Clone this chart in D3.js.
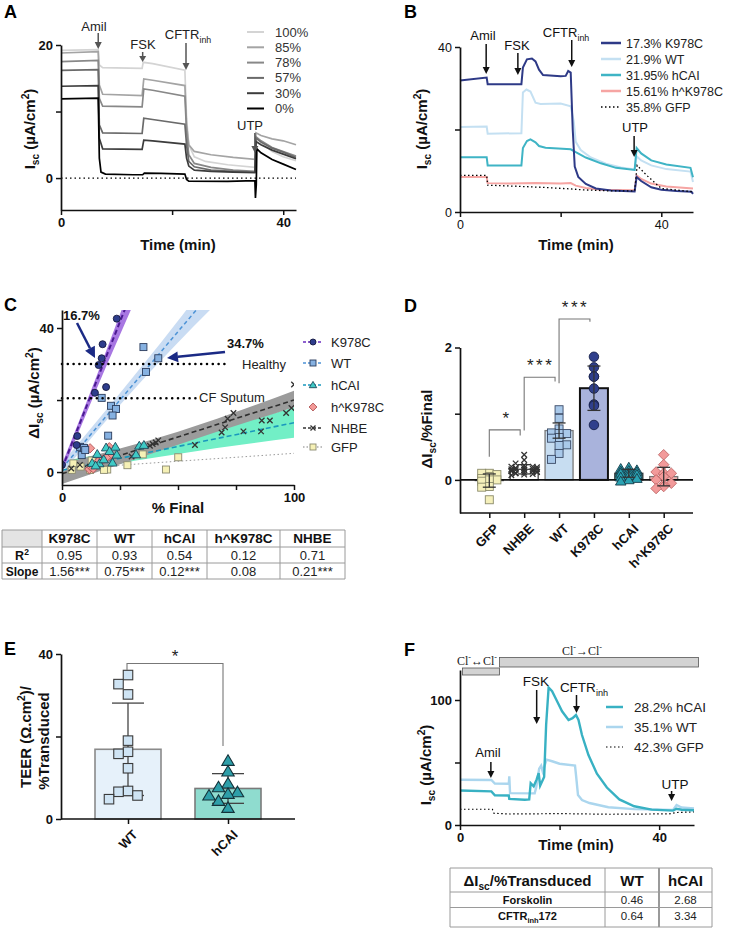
<!DOCTYPE html>
<html><head><meta charset="utf-8">
<script src="https://cdn.jsdelivr.net/npm/d3@7"></script>
<style>body{margin:0;background:#fff}</style>
</head><body><svg id="fig" width="736" height="929"></svg>
<script>
// ================= DATA =================
// Panel A (time in min, Isc in uA/cm2)
const legendA = ["100%","85%","78%","57%","30%","0%"];
const colorsA = ["#d4d4d4","#a4a4a4","#888888","#6a6a6a","#3c3c3c","#000000"];
const traceA100 = [[0,19.2],[6.7,19.3],[6.9,17],[7.5,16.6],[14.6,16.5],[14.8,17.4],[16.5,17.2],[22.3,16.2],[22.6,9],[23,5],[24,3.2],[26,2.5],[30,2],[34.9,1.6],[35.1,6.0],[36,5.4],[38,4],[40,3.2],[42.3,2.6]];
const traceA85 = [[0,18.8],[6.7,19.0],[6.9,14],[7.5,12.6],[14.6,12.4],[14.9,14.9],[16.5,14.7],[22.3,13.9],[22.6,8],[23,5],[24,4],[27,3.5],[31,3.1],[34.9,2.8],[35.1,6.8],[36,6.4],[38,5.9],[40,5.6],[42.3,5.0]];
const traceA78 = [[0,17.5],[6.7,17.7],[6.9,12],[7.5,10.8],[14.6,10.7],[14.9,13.4],[16.5,13.2],[22.3,12.3],[22.6,7],[23,3.5],[24,2.2],[27,1.6],[31,1.2],[34.9,1.0],[35.1,6.2],[36,5.6],[38,4.6],[40,4.0],[42.3,3.3]];
const traceA57 = [[0,16.2],[6.7,16.3],[6.9,8],[7.5,6.8],[14.6,6.7],[14.9,9.0],[16.5,8.8],[22.3,8.1],[22.6,5],[23,2.5],[24,1.7],[27,1.2],[31,1.0],[34.9,0.9],[35.1,6.0],[36,5.4],[38,4.5],[40,3.9],[42.3,3.1]];
const traceA30 = [[0,13.8],[6.7,13.9],[6.9,6],[7.5,4.4],[14.6,4.3],[14.9,5.7],[16.5,5.6],[22.3,5.1],[22.6,3],[23,1.8],[24,1.2],[27,1.0],[31,0.9],[34.9,0.8],[35.1,5.5],[36,5.0],[38,4.2],[40,3.6],[42.3,2.9]];
const traceA0 = [[0,11.9],[6.7,12.0],[6.9,3],[7.2,0.9],[8,0.6],[13,0.5],[14.7,0.5],[15,0.75],[18,0.7],[22.3,0.6],[22.6,-0.2],[23,-0.45],[30,-0.5],[34.9,-0.4],[35,-3],[35.15,-1],[35.25,4.4],[36,3.8],[38,2.8],[40,2.1],[42.3,1.3]];

// Panel B
const legendB = ["17.3% K978C","21.9% WT","31.95% hCAI","15.61% h^K978C","35.8% GFP"];
const colorsB = ["#2e3a87","#c4e0f2","#3fb4c5","#f6a5a3","#000000"];
const traceBK978C = [[0,31.9],[5.3,32.6],[5.5,31.0],[12.2,31.0],[12.5,35],[13.3,37.0],[14.3,37.2],[15,36.5],[15.7,34.5],[16.5,33.2],[20,32.9],[21,33],[21.5,34.2],[22,33.8],[22.4,20],[22.8,11],[23.5,8.5],[25,6.8],[27,5.7],[30,5.2],[34.7,5.0],[35.1,8.5],[36,7.5],[38,6.0],[40,5.4],[43,5.1],[46,4.9],[46.3,4.4]];
const traceBWT = [[0,20.6],[5.3,20.7],[5.5,19.0],[12.2,19.1],[12.5,29.0],[13.2,29.7],[14,29.2],[15,26.5],[16,26.2],[20,26.3],[22,25.6],[22.6,22],[23,17],[24,15],[26,13.2],[29,11.7],[32,10.8],[34.7,10.3],[35.1,13.5],[36,12.5],[38,11.3],[41,10.4],[45.8,9.8],[46.3,7.3]];
const traceBhCAI = [[0,13.3],[5.3,13.3],[5.5,11.3],[12.2,11.3],[12.5,15.5],[13.3,17.2],[14,17.6],[15,16.9],[15.7,16.0],[17,15.6],[22,15.2],[23,14.5],[25,13.2],[28,11.8],[31,10.7],[34.7,10.2],[35.1,15.5],[36,14.2],[38,12.5],[41,11.5],[45.8,10.7],[46.3,8.4]];
const traceBhK978C = [[0,8.5],[5.3,8.5],[5.5,7.0],[10,6.9],[15,7.0],[20,6.9],[22,7.0],[23,6.4],[25,5.8],[28,5.4],[34.7,5.3],[35.1,8.9],[36,8.0],[38,6.9],[41,6.2],[46.3,5.7]];
const traceBGFP = [[0,8.9],[5.3,8.9],[5.5,6.5],[10,6.3],[16,6.0],[22,5.6],[24,5.4],[30,5.1],[34.7,5.1],[35.2,11.3],[37,9.0],[40,5.7],[46.3,4.9]];

// Panel C (% Final vs delta Isc)
const legendC = ["K978C","WT","hCAI","h^K978C","NHBE","GFP"];
const C_K978C = [[23.6,42.6],[17.5,35.5],[17.1,31.6],[15.8,29.7],[19.0,23.6],[14.2,22.0],[6.6,10.0],[6.3,7.5],[0,2.0]];
const C_WT = [[35.1,34.7],[41.5,31.6],[36.2,27.8],[17.1,20.6],[21.1,18.4],[23.3,17.5],[21.8,15.7],[19.9,10.1],[7.8,7.0],[9.5,6.7],[8.5,4.7],[10.0,6.1]];
const C_hCAI = [[33.3,7.3],[35.3,7.5],[31.9,4.9],[23.6,4.8],[21.8,2.6],[16.1,2.4],[19.0,6.8],[15.2,5.0],[23.0,7.0],[18.0,3.5],[13.0,2.5],[20.5,5.8],[14.5,1.8]];
const C_hK978C = [[12.1,6.6],[20.4,6.9],[20.4,4.5],[16.4,3.5],[17.8,3.5],[11.8,0.8],[12.8,1.3],[14.9,2.0],[15.5,2.8],[13.5,1.0],[19.0,4.0]];
const C_NHBE = [[100,24.3],[98.9,17.8],[96.6,16.4],[89.6,14.3],[86.1,14.3],[85.8,11.3],[78.2,11.3],[73.9,16.4],[71.4,14.8],[70.3,12.4],[68.8,11.0],[57.3,7.5],[41.5,8.8],[40.4,8.2],[39.1,7.8],[37.9,7.3],[30.0,4.3],[7.7,2.0],[4.0,1.0],[12.0,1.5]];
const C_GFP = [[50.1,4.1],[44.8,0.7],[34.8,4.9],[28.2,1.9],[19.5,0.7],[18.1,0.6],[12.8,3.2],[12.1,0.6],[4.9,2.4],[4.2,0.6],[8.0,1.5]];
const fitK978C = [1.0, 1.63], fitWT = [1.0, 0.76], fitHCAI = [0.5, 0.132], fitNHBE = [-0.5, 0.205], fitGFP = [0.8, 0.044];
const bandK978C = [[0,-0.2,2.2],[15,23.2,26.8],[30,45.5,52.5]];
const bandWT = [[0,-0.5,2.5],[20,15.0,18.0],[50,36,42],[70,49,59]];
const bandHCAI = [[0,-2.0,3.0],[25,2.3,6.0],[50,5.0,9.2],[100,9.5,18.0]];
const bandNHBE = [[0,-3.3,2.3],[50,7.6,11.2],[100,18.0,22.6]];
const refLevels = [{label:"Healthy", v:30, end:72.4}, {label:"CF Sputum", v:20.5, end:58}];
const cTableCols = ["K978C","WT","hCAI","h^K978C","NHBE"];
const cR2 = ["0.95","0.93","0.54","0.12","0.71"];
const cSlope = ["1.56***","0.75***","0.12***","0.08","0.21***"];

// Panel D
const dCats = ["GFP","NHBE","WT","K978C","hCAI","h^K978C"];
const dMeans = [-0.01,0.16,0.745,1.385,0.10,0.05];
const dSD = [0.10,0.07,0.115,0.335,0.06,0.14];
const dGFP = [0.10,0.10,0.08,0.05,0.02,0.0,0.0,-0.02,-0.10,-0.11,-0.30];
const dNHBE = [0.38,0.30,0.25,0.22,0.20,0.20,0.19,0.18,0.18,0.17,0.17,0.16,0.16,0.15,0.15,0.15,0.14,0.14,0.13,0.13,0.12,0.12,0.11,0.10,0.10,0.09,0.08,0.07];
const dWT = [1.06,0.93,0.77,0.70,0.71,0.70,0.64,0.63,0.52,0.53,0.40,0.31];
const dK978C = [1.86,1.70,1.56,1.56,1.38,1.14,1.12,0.83];
const dHCAI = [0.19,0.17,0.15,0.14,0.13,0.12,0.10,0.10,0.08,0.06,0.04,0.02,0.0,-0.02];
const dHK978C = [0.38,0.23,0.12,0.10,0.10,0.05,0.0,-0.05,-0.07,-0.10,-0.13];
const dBrackets = [{a:"GFP",b:"NHBE",top:0.755,ya:0.35,yb:0.67,label:"*"},{a:"NHBE",b:"WT",top:1.55,ya:0.745,yb:1.485,label:"***"},{a:"WT",b:"K978C",top:2.43,ya:1.46,yb:2.39,label:"***"}];

// Panel E
const eCats = ["WT","hCAI"];
const eMeans = [16.9,7.4];
const eSD = [11.2,3.6];
const eWT = [34.9,32.7,30.2,19.0,16.3,15.8,12.3,6.8,5.7,6.6,4.8];
const eHCAI = [14.1,11.5,8.6,5.7,6.5,7.7,6.1,4.4,2.7];

// Panel F
const legendF = ["28.2% hCAI","35.1% WT","42.3% GFP"];
const traceFhCAI = [[0,27.6],[6.3,26.9],[7.0,23.8],[9.8,23.6],[9.9,20.9],[13.0,20.2],[13.9,20.5],[14.2,33.5],[14.8,31],[15.4,36.5],[15.8,41.5],[16.1,31.5],[16.9,38.5],[17.3,80],[17.8,110],[18.5,107],[19.5,99],[20.5,91],[21.8,84],[22.6,85.5],[23.3,88],[23.8,84],[24.5,72],[25.8,56],[27.5,41],[29.5,30],[32,20.5],[35,15],[38.5,12.3],[42.8,11.5],[43.5,13],[44.5,12.2],[47,11.8]];
const traceFWT = [[0,36.2],[6.3,36],[7.0,33.2],[9.8,33],[9.9,39],[10.05,25.5],[15.0,25.3],[15.3,30],[15.9,45],[16.3,47.5],[16.6,43],[17.4,52.3],[18.5,51],[20,49],[23.1,47.5],[23.3,40],[23.7,24],[24.5,20],[26,17.6],[29.8,14.2],[35,12.7],[42.8,12.1],[43.5,16],[44.5,14],[47,13.2]];
const traceFGFP = [[0,12.6],[6.5,12.6],[6.8,9.4],[10,8.8],[20,9.1],[30,8.6],[42,8.9],[43.5,10],[47,10.5]];
const fTableRows = ["Forskolin","CFTRinh172"];
const fTableWT = ["0.46","0.64"];
const fTableHCAI = ["2.68","3.34"];

// ================= HELPERS =================
const FONT = '"Liberation Sans", Arial, Helvetica, sans-serif';
const svg = d3.select('#fig');
svg.append('rect').attr('width',736).attr('height',929).attr('fill','#fff');

function rich(t, parts, size){
  let shift = 0;
  parts.forEach(p => {
    const s = typeof p === 'string' ? [p,''] : p;
    const target = s[1]==='sub' ? size*0.28 : s[1]==='sup' ? -size*0.38 : 0;
    t.append('tspan').attr('dy', (target-shift).toFixed(2)).attr('font-size', s[1] ? size*0.68 : size).text(s[0]);
    shift = target;
  });
}
function txt(g, x, y, s, o={}){
  const size = o.size || 13;
  const t = g.append('text').attr('x',x).attr('y',y).attr('font-family',o.family||FONT).attr('font-size',size)
    .attr('font-weight',o.bold?'bold':'normal').attr('fill',o.fill||'#111').attr('text-anchor',o.anchor||'start');
  if (o.ls) t.attr('letter-spacing', o.ls);
  if (Array.isArray(s)) rich(t, s, size); else t.text(s);
  return t;
}
function vtxt(g, x, y, parts, o={}){
  const size = o.size || 15;
  const t = g.append('text').attr('transform',`translate(${x},${y}) rotate(-90)`).attr('font-family',FONT)
    .attr('font-size',size).attr('font-weight','bold').attr('fill','#111').attr('text-anchor','middle');
  rich(t, parts, size);
  return t;
}
function arrow(g,x1,y1,x2,y2,o={}){
  const color=o.color||'#111', w=o.w||1.5, head=o.head||7, hw=o.hw||3.5;
  const a=Math.atan2(y2-y1,x2-x1), bx=x2-head*Math.cos(a), by=y2-head*Math.sin(a);
  g.append('line').attr('x1',x1).attr('y1',y1).attr('x2',bx).attr('y2',by).attr('stroke',color).attr('stroke-width',w);
  const px=-Math.sin(a)*hw, py=Math.cos(a)*hw;
  g.append('path').attr('d',`M${x2},${y2}L${bx+px},${by+py}L${bx-px},${by-py}Z`).attr('fill',color);
}
function styleAxis(g, bold=true, size=13){
  g.select('.domain').attr('stroke','#111').attr('stroke-width',1.7);
  g.selectAll('.tick line').attr('stroke','#111').attr('stroke-width',1.5);
  g.selectAll('.tick text').attr('font-size',size).attr('font-weight',bold?'bold':'normal').attr('fill','#111').attr('font-family',FONT);
}
function mark(g,type,x,y,s,fill,stroke,sw=0.9){
  let el;
  if(type==='circle') el=g.append('circle').attr('cx',x).attr('cy',y).attr('r',s/2);
  else if(type==='square') el=g.append('rect').attr('x',x-s/2).attr('y',y-s/2).attr('width',s).attr('height',s);
  else if(type==='triangle') el=g.append('path').attr('d',`M${x},${y-s*0.6}L${x+s*0.62},${y+s*0.45}L${x-s*0.62},${y+s*0.45}Z`);
  else if(type==='diamond') el=g.append('path').attr('d',`M${x},${y-s*0.66}L${x+s*0.66},${y}L${x},${y+s*0.66}L${x-s*0.66},${y}Z`);
  else if(type==='cross'){ g.append('path').attr('d',`M${x-s/2},${y-s/2}L${x+s/2},${y+s/2}M${x+s/2},${y-s/2}L${x-s/2},${y+s/2}`).attr('stroke',stroke).attr('stroke-width',1.3).attr('fill','none'); return; }
  el.attr('fill',fill).attr('stroke',stroke).attr('stroke-width',sw);
}
function swarm(vals, y, cx, s, maxHalf){
  const pts = vals.map(v=>({v, y:y(v)})).sort((a,b)=>a.y-b.y);
  const placed=[]; const step=s*0.95;
  pts.forEach(p=>{
    const cands=[0];
    for(let k=1;k*step<=maxHalf+0.01;k++) cands.push(-k*step,k*step);
    let best=0,bestC=1e9;
    for(const o of cands){
      const c=placed.filter(q=>Math.abs(q.x-(cx+o))<s*0.95 && Math.abs(q.y-p.y)<s*0.95).length;
      if(c<bestC){bestC=c;best=o;if(c===0)break;}
    }
    p.x=cx+best; placed.push(p);
  });
  return placed;
}
function letter(x,y,s){ txt(svg,x,y,s,{size:18,bold:true,fill:'#000'}); }
const ISC = ["I",["sc","sub"]," (\u00b5A/cm",["2","sup"],")"];

// ================= PANEL A =================
(function(){
  const g = svg.append('g');
  letter(4,18,"A");
  const x = d3.scaleLinear().domain([0,42.3]).range([61,296]);
  const y = d3.scaleLinear().domain([-4.8,20]).range([210,45]);
  g.append('line').attr('x1',61).attr('x2',296).attr('y1',y(0)).attr('y2',y(0)).attr('stroke','#000').attr('stroke-width',1.2).attr('stroke-dasharray','1.5,3');
  const line = d3.line().x(d=>x(d[0])).y(d=>y(d[1]));
  [traceA100,traceA85,traceA78,traceA57,traceA30,traceA0].forEach((tr,i)=>
    g.append('path').attr('d',line(tr)).attr('fill','none').attr('stroke',colorsA[i]).attr('stroke-width',1.7));
  g.append('g').attr('transform','translate(61,0)').call(d3.axisLeft(y).tickValues([0,10,20]).tickFormat(d=>d===10?'':d).tickSize(5).tickSizeOuter(0)).call(styleAxis);
  g.append('g').attr('transform','translate(0,210)').call(d3.axisBottom(x).tickValues([0,20,40]).tickFormat(d=>d===20?'':d).tickSize(5).tickSizeOuter(0)).call(styleAxis);
  vtxt(g,35,129,ISC);
  txt(g,178,250,"Time (min)",{size:15,bold:true,anchor:'middle'});
  const ac='#555';
  txt(g,94,31,"Amil",{anchor:'middle',fill:'#222'}); arrow(g,x(6.7),33,x(6.7),49,{color:ac});
  txt(g,143,49,"FSK",{anchor:'middle',fill:'#222'}); arrow(g,x(14.7),52,x(14.7),62,{color:ac,head:6});
  txt(g,188,39,["CFTR",["inh","sub"]],{anchor:'middle',fill:'#222'}); arrow(g,x(22.5),43,x(22.5),70,{color:ac});
  txt(g,250,130,"UTP",{anchor:'middle',fill:'#222'}); arrow(g,x(34.9),133,x(34.9),153,{color:ac});
  legendA.forEach((l,i)=>{
    const yy=32+i*15.3;
    g.append('line').attr('x1',247).attr('x2',264).attr('y1',yy).attr('y2',yy).attr('stroke',colorsA[i]).attr('stroke-width',2);
    txt(g,275,yy+4.5,l,{fill:'#333'});
  });
})();

// ================= PANEL B =================
(function(){
  const g = svg.append('g');
  letter(404,18,"B");
  const x = d3.scaleLinear().domain([0,46.3]).range([460,693]);
  const y = d3.scaleLinear().domain([0,40]).range([212,47]);
  const line = d3.line().x(d=>x(d[0])).y(d=>y(d[1]));
  const traces=[traceBK978C,traceBWT,traceBhCAI,traceBhK978C,traceBGFP];
  [1,2,3,0].forEach(i=> g.append('path').attr('d',line(traces[i])).attr('fill','none').attr('stroke',colorsB[i]).attr('stroke-width',2));
  g.append('path').attr('d',line(traceBGFP)).attr('fill','none').attr('stroke','#000').attr('stroke-width',1.3).attr('stroke-dasharray','1.5,2.5');
  g.append('g').attr('transform','translate(460,0)').call(d3.axisLeft(y).tickValues([0,20,40]).tickFormat(d=>d===20?'':d).tickSize(5).tickSizeOuter(0)).call(a=>styleAxis(a,false,12.5));
  g.append('g').attr('transform','translate(0,212)').call(d3.axisBottom(x).tickValues([0,20,40]).tickFormat(d=>d===20?'':d).tickSize(5).tickSizeOuter(0)).call(a=>styleAxis(a,false,12.5));
  vtxt(g,427,129,ISC);
  txt(g,576,250,"Time (min)",{size:15,bold:true,anchor:'middle'});
  txt(g,483,40,"Amil",{anchor:'middle'}); arrow(g,x(5.2),44,x(5.2),74);
  txt(g,517,50,"FSK",{anchor:'middle'}); arrow(g,x(11.5),53,x(11.5),75);
  txt(g,566,37,["CFTR",["inh","sub"]],{anchor:'middle'}); arrow(g,x(22.2),40,x(22.2),67);
  txt(g,635,132,"UTP",{anchor:'middle'}); arrow(g,x(34.6),136,x(34.6),157);
  legendB.forEach((l,i)=>{
    const yy=43+i*16;
    const ln=g.append('line').attr('x1',601).attr('x2',621).attr('y1',yy).attr('y2',yy).attr('stroke',colorsB[i]).attr('stroke-width',i===4?1.3:2.5);
    if(i===4) ln.attr('stroke-dasharray','1.5,2.5');
    txt(g,626,yy+4.5,l,{size:12.5,fill:'#222'});
  });
})();

// ================= PANEL C =================
(function(){
  const g = svg.append('g');
  letter(4,311,"C");
  const x = d3.scaleLinear().domain([0,100]).range([62,294]);
  const y = d3.scaleLinear().domain([-3.6,45]).range([485,310]);
  svg.append('clipPath').attr('id','clipC').append('rect').attr('x',62).attr('y',310).attr('width',232).attr('height',175);
  const pg = g.append('g').attr('clip-path','url(#clipC)');
  const area = d3.area().x(d=>x(d[0])).y0(d=>y(d[1])).y1(d=>y(d[2])).curve(d3.curveMonotoneX);
  pg.append('path').attr('d',area(bandHCAI)).attr('fill','#72efc6');
  pg.append('path').attr('d',area(bandNHBE)).attr('fill','#9b9b9b');
  pg.append('path').attr('d',area(bandWT)).attr('fill','#c9dcf3');
  pg.append('path').attr('d',area(bandK978C)).attr('fill','#a877e2');
  const fl = (f,x0,x1,col,w,dash)=> pg.append('line').attr('x1',x(x0)).attr('x2',x(x1)).attr('y1',y(f[0]+f[1]*x0)).attr('y2',y(f[0]+f[1]*x1)).attr('stroke',col).attr('stroke-width',w).attr('stroke-dasharray',dash);
  fl(fitGFP,0,100,'#9a9a9a',1,'1.5,2.5');
  fl(fitHCAI,0,100,'#1a98bd',1.6,'5,3');
  fl(fitNHBE,0,100,'#2f2f2f',1.6,'5,3');
  fl(fitWT,0,70,'#4d93d6',1.5,'4,3');
  fl(fitK978C,0,30,'#4b1a92',2,'5,3');
  refLevels.forEach(r=>{
    g.append('line').attr('x1',x(0)).attr('x2',x(r.end)).attr('y1',y(r.v)).attr('y2',y(r.v)).attr('stroke','#000').attr('stroke-width',2.6).attr('stroke-linecap','round').attr('stroke-dasharray','0,5.8');
  });
  txt(g,242,369,"Healthy",{fill:'#222'});
  txt(g,199,402,"CF Sputum",{fill:'#222'});
  C_GFP.forEach(d=>mark(pg,'square',x(d[0]),y(d[1]),7,'#f6f1b6','#8a8a70'));
  C_NHBE.forEach(d=>mark(pg,'cross',x(d[0]),y(d[1]),5.5,'none','#333'));
  C_hK978C.forEach(d=>mark(pg,'diamond',x(d[0]),y(d[1]),7,'#f39a98','#b05555'));
  C_hCAI.forEach(d=>mark(pg,'triangle',x(d[0]),y(d[1]),7.5,'#3fcac6','#1f4a5a'));
  C_WT.forEach(d=>mark(pg,'square',x(d[0]),y(d[1]),7,'#86b1e1','#2b3c5c'));
  C_K978C.forEach(d=>mark(pg,'circle',x(d[0]),y(d[1]),7,'#2e3d8c','#151a40'));
  g.append('g').attr('transform','translate(62,0)').call(d3.axisLeft(y).tickValues([0,20,40]).tickFormat(d=>d===20?'':d).tickSize(5).tickSizeOuter(0)).call(styleAxis);
  g.append('g').attr('transform','translate(0,485)').call(d3.axisBottom(x).tickValues([0,25,50,75,100]).tickFormat(d=>(d===0||d===100)?d:'').tickSize(5).tickSizeOuter(0)).call(styleAxis);
  vtxt(g,39,393,["\u0394I",["sc","sub"]," (\u00b5A/cm",["2","sup"],")"]);
  txt(g,178,513,"% Final",{size:15,bold:true,anchor:'middle'});
  txt(g,63,320,"16.7%",{bold:true,size:13});
  txt(g,227,348,"34.7%",{bold:true,size:13});
  arrow(g,77,323,95,358,{color:'#1b2a85',w:2.5,head:11,hw:5.5});
  arrow(g,225,352,167,358,{color:'#1b2a85',w:2.5,head:11,hw:5.5});
  // legend
  const lc = [
    {m:'circle',f:'#2e3d8c',s:'#151a40',lc:'#6a2cc0',dash:'3,2'},
    {m:'square',f:'#86b1e1',s:'#2b3c5c',lc:'#4d93d6',dash:'3,2'},
    {m:'triangle',f:'#3fcac6',s:'#1f4a5a',lc:'#1a98bd',dash:'3,2'},
    {m:'diamond',f:'#f39a98',s:'#b05555',lc:null},
    {m:'cross',f:'none',s:'#333',lc:'#333',dash:'3,2'},
    {m:'square',f:'#f6f1b6',s:'#8a8a70',lc:'#aaa',dash:'1.5,2'}];
  const ly=[342,363,385,407,428,447];
  legendC.forEach((l,i)=>{
    const c=lc[i];
    if(c.lc) g.append('line').attr('x1',303).attr('x2',323).attr('y1',ly[i]).attr('y2',ly[i]).attr('stroke',c.lc).attr('stroke-width',1.5).attr('stroke-dasharray',c.dash);
    mark(g,c.m,313,ly[i],c.m==='cross'?5:6,c.f,c.s);
    txt(g,331,ly[i]+5,l,{fill:'#222'});
  });
  // table
  const cx=[2,42,97,152,207,280,345], ry=[530,547,563,579];
  const tg=svg.append('g');
  tg.append('rect').attr('x',cx[0]).attr('y',ry[0]).attr('width',cx[1]-cx[0]).attr('height',ry[1]-ry[0]).attr('fill','#e4e4e4');
  ry.forEach(v=>tg.append('line').attr('x1',cx[0]).attr('x2',cx[6]).attr('y1',v).attr('y2',v).attr('stroke','#9a9a9a'));
  cx.forEach(v=>tg.append('line').attr('x1',v).attr('x2',v).attr('y1',ry[0]).attr('y2',ry[3]).attr('stroke','#9a9a9a'));
  cTableCols.forEach((c,i)=>{
    const mx=(cx[i+1]+cx[i+2])/2;
    txt(tg,mx,ry[0]+13,c,{bold:true,size:13.5,anchor:'middle'});
    txt(tg,mx,ry[1]+12.5,cR2[i],{size:13,anchor:'middle',fill:'#222'});
    txt(tg,mx,ry[2]+12.5,cSlope[i],{size:13,anchor:'middle',fill:'#222'});
  });
  txt(tg,(cx[0]+cx[1])/2,ry[1]+12.5,["R",["2","sup"]],{bold:true,size:12.5,anchor:'middle'});
  txt(tg,(cx[0]+cx[1])/2,ry[2]+12.5,"Slope",{bold:true,size:12,anchor:'middle'});
})();

// ================= PANEL D =================
(function(){
  const g = svg.append('g');
  letter(404,312,"D");
  const x = d3.scalePoint().domain(dCats).range([460,693]).padding(0.84);
  const y = d3.scaleLinear().domain([-0.5,2]).range([513,347.5]);
  const bw=28;
  const barFill=['#f4f0c6','#ffffff','#c7ddf1','#a9b3dc','#3aa9b8','#f5b3b2'];
  const barStroke=['#666','#444','#7a7a7a','#111','#333','#777'];
  const pts=[dGFP,dNHBE,dWT,dK978C,dHCAI,dHK978C];
  const mk=[['square',8,'#f5f0bb','#8a8a6a'],['cross',5.5,'none','#333'],['square',8,'#a9c9ea','#3a4a66'],['circle',9.5,'#2f3f8c','#16204a'],['triangle',8.5,'#2aa2b2','#173c4a'],['diamond',8,'#f29a9a','#c06868']];
  dCats.forEach((c,i)=>{
    const cx=x(c), m=dMeans[i];
    g.append('rect').attr('x',cx-bw/2).attr('width',bw).attr('y',Math.min(y(m),y(0))).attr('height',Math.abs(y(m)-y(0))).attr('fill',barFill[i]).attr('stroke',barStroke[i]).attr('stroke-width',i===3?2:1.3);
  });
  g.append('line').attr('x1',460).attr('x2',693).attr('y1',y(0)).attr('y2',y(0)).attr('stroke','#111').attr('stroke-width',1.8);
  dCats.forEach((c,i)=>{
    const cx=x(c), m=dMeans[i], s=dSD[i];
    const sw = swarm(pts[i], y, cx, i===1?4.5:mk[i][1], 14);
    sw.forEach(p=>mark(g,mk[i][0],p.x,p.y,mk[i][1],mk[i][2],mk[i][3]));
    const ec = '#333';
    g.append('line').attr('x1',cx).attr('x2',cx).attr('y1',y(m-s)).attr('y2',y(m+s)).attr('stroke',ec).attr('stroke-width',1.3);
    [m-s,m+s].forEach(v=>g.append('line').attr('x1',cx-6.5).attr('x2',cx+6.5).attr('y1',y(v)).attr('y2',y(v)).attr('stroke',ec).attr('stroke-width',1.3));
  });
  g.append('g').attr('transform','translate(460,0)').call(d3.axisLeft(y).tickValues([0,1,2]).tickFormat(d=>d===1?'':d).tickSize(5).tickSizeOuter(0)).call(styleAxis);
  const xa=g.append('g').attr('transform','translate(0,513)').call(d3.axisBottom(x).tickSize(5).tickSizeOuter(0).tickFormat(''));
  styleAxis(xa);
  xa.select('.domain').attr('d','M460,0H693');
  dCats.forEach(c=>{
    g.append('text').attr('transform',`translate(${x(c)+4},523) rotate(-45)`).attr('text-anchor','end').attr('dy','0.7em')
      .attr('font-family',FONT).attr('font-size',13).attr('font-weight','bold').attr('fill','#111').text(c);
  });
  vtxt(g,432,429,["\u0394I",["sc","sub"],"/%Final"]);
  dBrackets.forEach(b=>{
    const xa1=x(b.a), xb1=x(b.b)-4;
    g.append('path').attr('d',`M${xa1},${y(b.ya)}V${y(b.top)}H${xb1}V${y(b.yb)}`).attr('fill','none').attr('stroke','#777').attr('stroke-width',1.1);
    txt(g,(xa1+xb1)/2+1,y(b.top)-6,b.label,{size:17,anchor:'middle',ls:b.label==='*'?0:2.5,fill:'#222'});
  });
})();

// ================= PANEL E =================
(function(){
  const g = svg.append('g');
  letter(4,655,"E");
  const x = d3.scalePoint().domain(eCats).range([61,295]).padding(0.67);
  const y = d3.scaleLinear().domain([0,40]).range([819,654]);
  const bw=66;
  const fills=['#e6f1fa','#8fdccf'], strokes=['#8a8a8a','#7a7a7a'];
  const pts=[eWT,eHCAI];
  eCats.forEach((c,i)=>{
    const cx=x(c), m=eMeans[i], s=eSD[i];
    g.append('rect').attr('x',cx-bw/2).attr('width',bw).attr('y',y(m)).attr('height',y(0)-y(m)).attr('fill',fills[i]).attr('stroke',strokes[i]).attr('stroke-width',1.6);
    g.append('line').attr('x1',cx).attr('x2',cx).attr('y1',y(m-s)).attr('y2',y(m+s)).attr('stroke','#444').attr('stroke-width',1.3);
    [m-s,m+s].forEach(v=>g.append('line').attr('x1',cx-16).attr('x2',cx+16).attr('y1',y(v)).attr('y2',y(v)).attr('stroke','#444').attr('stroke-width',1.3));
    const sw=swarm(pts[i],y,cx,10,30);
    sw.forEach(p=> i===0 ? mark(g,'square',p.x,p.y,9.5,'#cfe4f4','#3a3a3a',1.1) : mark(g,'triangle',p.x,p.y,10,'#2e9fa9','#14323a',1.1));
  });
  g.append('g').attr('transform','translate(61,0)').call(d3.axisLeft(y).tickValues([0,20,40]).tickFormat(d=>d===20?'':d).tickSize(5).tickSizeOuter(0)).call(styleAxis);
  const xa=g.append('g').attr('transform','translate(0,819)').call(d3.axisBottom(x).tickSize(5).tickSizeOuter(0).tickFormat(''));
  styleAxis(xa); xa.select('.domain').attr('d','M61,0H295');
  eCats.forEach(c=>{
    g.append('text').attr('transform',`translate(${x(c)+4},829) rotate(-45)`).attr('text-anchor','end').attr('dy','0.7em')
      .attr('font-family',FONT).attr('font-size',13).attr('font-weight','bold').attr('fill','#111').text(c);
  });
  vtxt(g,31,737,["TEER (\u03a9.cm",["2","sup"],")/"]);
  vtxt(g,49,741,["%Transduced"]);
  const xl=x("WT")-1, xr=x("hCAI")-5;
  g.append('path').attr('d',`M${xl},${y(36.1)}V${y(37.7)}H${xr}V${y(17.7)}`).attr('fill','none').attr('stroke','#777').attr('stroke-width',1.1);
  txt(g,(xl+xr)/2,662,"*",{size:17,anchor:'middle',fill:'#222'});
})();

// ================= PANEL F =================
(function(){
  const g = svg.append('g');
  letter(404,656,"F");
  const x = d3.scaleLinear().domain([0,47]).range([460,694]);
  const y = d3.scaleLinear().domain([0,124]).range([825,670]);
  // chloride gradient bars
  g.append('rect').attr('x',462.5).attr('y',668).attr('width',37).attr('height',7).attr('fill','#d3d3d3').attr('stroke','#555').attr('stroke-width',0.8);
  g.append('rect').attr('x',499.5).attr('y',657.5).attr('width',199).attr('height',9.5).attr('fill','#d3d3d3').attr('stroke','#555').attr('stroke-width',0.8);
  txt(g,477,665,["Cl",["-","sup"],"\u2194Cl",["-","sup"]],{size:12,anchor:'middle',family:'"Liberation Serif","Times New Roman",serif',fill:'#222'});
  txt(g,582,655,["Cl",["-","sup"],"\u2192Cl",["-","sup"]],{size:12,anchor:'middle',family:'"Liberation Serif","Times New Roman",serif',fill:'#222'});
  const line = d3.line().x(d=>x(d[0])).y(d=>y(d[1]));
  g.append('path').attr('d',line(traceFGFP)).attr('fill','none').attr('stroke','#000').attr('stroke-width',1.2).attr('stroke-dasharray','1.5,2.5');
  g.append('path').attr('d',line(traceFWT)).attr('fill','none').attr('stroke','#abd6ee').attr('stroke-width',2.4);
  g.append('path').attr('d',line(traceFhCAI)).attr('fill','none').attr('stroke','#38b1c3').attr('stroke-width',2.4);
  g.append('g').attr('transform','translate(460,0)').call(d3.axisLeft(y).tickValues([0,50,100]).tickFormat(d=>d===50?'':d).tickSize(5).tickSizeOuter(0)).call(styleAxis);
  g.append('g').attr('transform','translate(0,825)').call(d3.axisBottom(x).tickValues([0,20,40]).tickFormat(d=>d===20?'':d).tickSize(5).tickSizeOuter(0)).call(styleAxis);
  vtxt(g,431,765,ISC);
  txt(g,576,850,"Time (min)",{size:15,bold:true,anchor:'middle'});
  txt(g,488,757,"Amil",{anchor:'middle'}); arrow(g,x(6.2),762,x(6.2),778);
  txt(g,536,686,"FSK",{anchor:'middle',size:13.5}); arrow(g,x(15.4),690,x(15.4),724);
  txt(g,584,692,["CFTR",["inh","sub"]],{anchor:'middle',size:13.5}); arrow(g,x(23.4),695,x(23.4),713);
  txt(g,675,789,"UTP",{anchor:'middle',size:13.5}); arrow(g,x(42.5),791,x(42.5),801);
  const lcol=['#38b1c3','#abd6ee','#000'];
  legendF.forEach((l,i)=>{
    const yy=707+i*20;
    const ln=g.append('line').attr('x1',606).attr('x2',623).attr('y1',yy).attr('y2',yy).attr('stroke',lcol[i]).attr('stroke-width',i===2?1.2:2.5);
    if(i===2) ln.attr('stroke-dasharray','1.5,2.5');
    txt(g,634,yy+5,l,{size:13.5,fill:'#222'});
  });
  // table
  const cx=[450,605,659,712], ry=[868,892,907.5,927];
  ry.forEach(v=>g.append('line').attr('x1',cx[0]).attr('x2',cx[3]).attr('y1',v).attr('y2',v).attr('stroke','#9a9a9a'));
  cx.forEach(v=>g.append('line').attr('x1',v).attr('x2',v).attr('y1',ry[0]).attr('y2',ry[3]).attr('stroke','#9a9a9a').attr('stroke-width',v===659?2:1));
  txt(g,(cx[0]+cx[1])/2,886,["\u0394I",["sc","sub"],"/%Transduced"],{bold:true,size:15,anchor:'middle'});
  txt(g,(cx[1]+cx[2])/2,886,"WT",{bold:true,size:15,anchor:'middle'});
  txt(g,(cx[2]+cx[3])/2,886,"hCAI",{bold:true,size:15,anchor:'middle'});
  const rowLbl=[["Forskolin"],["CFTR",["inh","sub"],"172"]];
  fTableRows.forEach((r,i)=>{
    const by=ry[i+1]+12;
    txt(g,(cx[0]+cx[1])/2,by,rowLbl[i],{bold:true,size:11,anchor:'middle'});
    txt(g,(cx[1]+cx[2])/2,by,fTableWT[i],{size:11.5,anchor:'middle',fill:'#222'});
    txt(g,(cx[2]+cx[3])/2,by,fTableHCAI[i],{size:11.5,anchor:'middle',fill:'#222'});
  });
})();
</script></body></html>
